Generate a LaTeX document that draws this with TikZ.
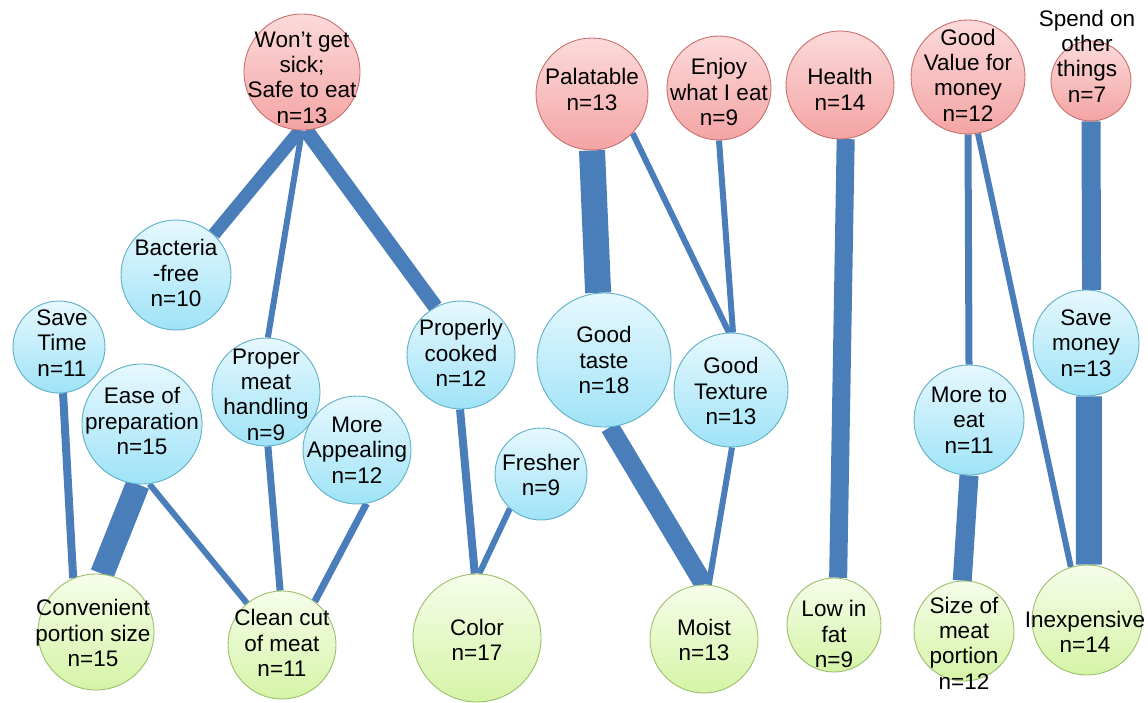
\documentclass[tikz,border=0pt]{standalone}
\usepackage{fontspec}
\newfontfamily\lib{Liberation Sans}
\pgfdeclarelayer{edges}
\pgfsetlayers{edges,main}
\definecolor{edgeC}{HTML}{4A7EBB}
\definecolor{redT}{HTML}{FCDADA}
\definecolor{redB}{HTML}{F4A4A4}
\definecolor{redD}{HTML}{C8706E}
\definecolor{bluT}{HTML}{E6F8FE}
\definecolor{bluB}{HTML}{9FE3F7}
\definecolor{bluD}{HTML}{5FAFC6}
\definecolor{grnT}{HTML}{F6FDEA}
\definecolor{grnB}{HTML}{D5F4A6}
\definecolor{grnD}{HTML}{9CBE6C}
\tikzset{
  bub/.style={circle, line width=0.9pt, inner sep=0pt, minimum size=2*#1},
  rb/.style={bub=#1, draw=redD, top color=redT, bottom color=redB},
  bb/.style={bub=#1, draw=bluD, top color=bluT, bottom color=bluB},
  gb/.style={bub=#1, draw=grnD, top color=grnT, bottom color=grnB},
  every label/.style={align=center, text=black, inner sep=0pt, font=\lib\fontsize{22.5}{25.4}\selectfont},
  e/.style={draw=edgeC, line width=#1},
}
\begin{document}
\begin{tikzpicture}[x=1pt,y=-1pt]
\useasboundingbox (0,0) rectangle (1148,703);
% top (red) nodes
\node[rb=58, label={[yshift=-5.5pt]center:{Won’t get\\sick;\\Safe to eat\\n=13}}] (won) at (302,72) {};
\node[rb=56, label={[yshift=4.5pt]center:{Palatable\\n=13}}] (pal) at (592,94) {};
\node[rb=52, label={[yshift=-4pt]center:{Enjoy\\what I eat\\n=9}}] (enj) at (719,88) {};
\node[rb=54, label={[yshift=-4.5pt]center:{Health\\n=14}}] (hea) at (840,85) {};
\node[rb=57, label={[yshift=2pt]center:{Good\\Value for\\money\\n=12}}] (gv) at (968,77) {};
\node[rb=40, label={[yshift=25pt,xshift=-4pt]center:{Spend on\\other\\things\\n=7}}] (spe) at (1091,81) {};
% middle (blue) nodes
\node[bb=55, label={[yshift=2pt]center:{Bacteria\\-free\\n=10}}] (bac) at (176,275) {};
\node[bb=46, label={[yshift=4pt,xshift=3pt]center:{Save\\Time\\n=11}}] (st) at (59,347) {};
\node[bb=60, label={[yshift=3pt]center:{Ease of\\preparation\\n=15}}] (ease) at (142,424) {};
\node[bb=54, label={[yshift=-2.5pt]center:{Proper\\meat\\handling\\n=9}}] (pmh) at (266,392) {};
\node[bb=54, label={center:{More\\Appealing\\n=12}}] (ma) at (357,450) {};
\node[bb=54, label={[yshift=2pt]center:{Properly\\cooked\\n=12}}] (pc) at (461,355) {};
\node[bb=67, label={center:{Good\\taste\\n=18}}] (gt) at (604,360) {};
\node[bb=57, label={[yshift=-1pt]center:{Good\\Texture\\n=13}}] (gtx) at (731,390) {};
\node[bb=46, label={[yshift=-1pt]center:{Fresher\\n=9}}] (fr) at (541,474) {};
\node[bb=55, label={center:{More to\\eat\\n=11}}] (mte) at (969,420) {};
\node[bb=53, label={center:{Save\\money\\n=13}}] (sm) at (1086,343) {};
% bottom (green) nodes
\node[gb=58, label={[yshift=-1pt,xshift=-3pt]center:{Convenient\\portion size\\n=15}}] (conv) at (96,632) {};
\node[gb=54, label={[yshift=2pt]center:{Clean cut\\of meat\\n=11}}] (cc) at (282,645) {};
\node[gb=64, label={[yshift=-2pt]center:{Color\\n=17}}] (col) at (477,638) {};
\node[gb=54, label={[yshift=-1pt]center:{Moist\\n=13}}] (moi) at (704,639) {};
\node[gb=47, label={[yshift=-9pt]center:{Low in\\fat\\n=9}}] (lf) at (834,625) {};
\node[gb=50, label={[yshift=-12pt]center:{Size of\\meat\\portion\\n=12}}] (sz) at (964,631) {};
\node[gb=55, label={[yshift=-12pt,xshift=-2pt]center:{Inexpensive\\n=14}}] (inx) at (1087,620) {};
% connectors
\begin{pgfonlayer}{edges}
\draw[e=13] (won.-92) -- (bac.47);
\draw[e=6] (won.-90) -- (pmh.88);
\draw[e=15] (won.-86) -- (pc.118);
\draw[e=8] (st.-85) -- (conv.113);
\draw[e=24] (ease.-94) -- (conv.84);
\draw[e=6] (ease.-83) -- (cc.130);
\draw[e=7] (pmh.-88) -- (cc.92);
\draw[e=7] (ma.-80) -- (cc.53);
\draw[e=8] (pc.-91) -- (col.92);
\draw[e=6] (fr.-132) -- (col.88);
\draw[e=26] (pal.-90) -- (gt.95);
\draw[e=6] (pal.-44) -- (gtx.92);
\draw[e=6] (enj.-90) -- (gtx.88);
\draw[e=19] (gt.-85) -- (moi.90);
\draw[e=6] (gtx.-89) -- (moi.85);
\draw[e=18] (hea.-84) -- (lf.85);
\draw[e=7] (gv.-90) -- (mte.90);
\draw[e=6] (gv.-80) -- (inx.107);
\draw[e=19] (mte.-90) -- (sz.92);
\draw[e=19] (spe.-90) -- (sm.84);
\draw[e=26] (sm.-87) -- (inx.88);
\end{pgfonlayer}
\end{tikzpicture}
\end{document}
